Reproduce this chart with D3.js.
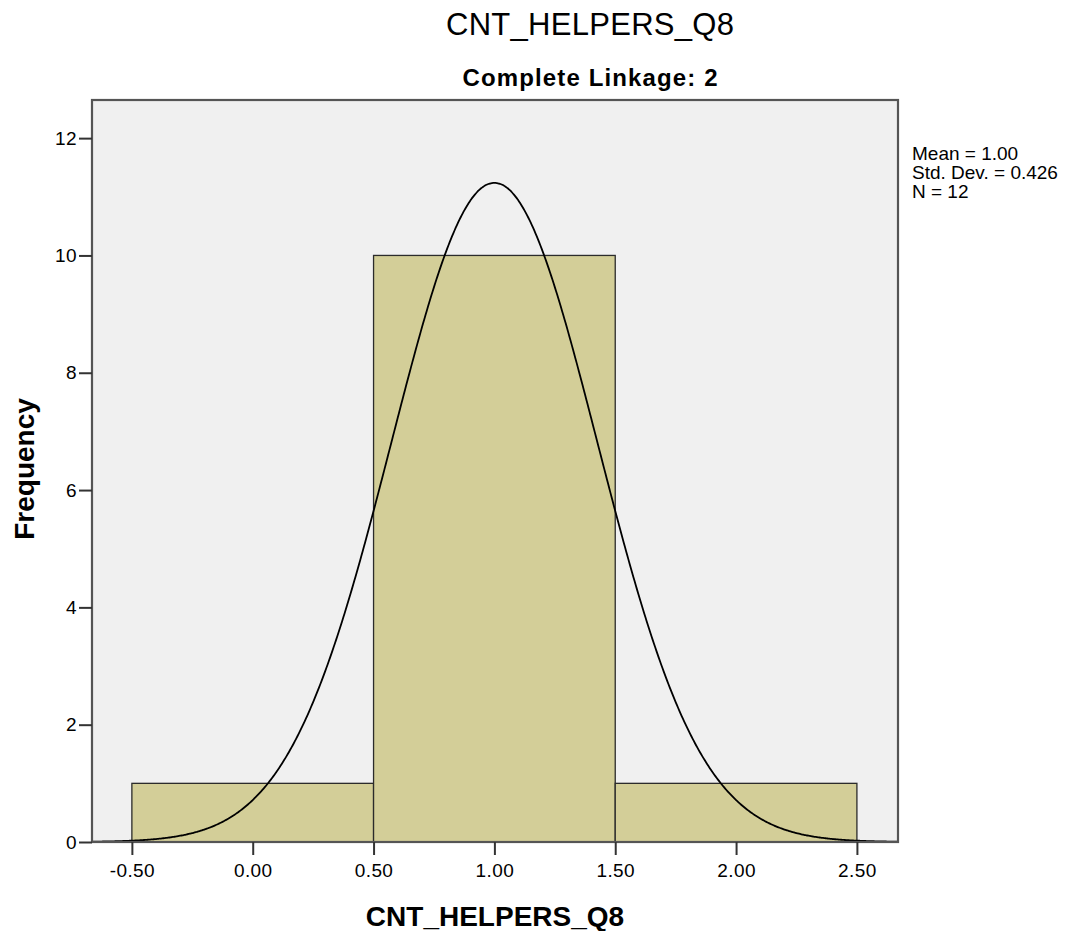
<!DOCTYPE html>
<html>
<head>
<meta charset="utf-8">
<script src="https://cdn.jsdelivr.net/npm/d3@7"></script>
<style>
  body { margin: 0; background: #fff; }
  text { font-family: "Liberation Sans", Arial, sans-serif; fill: #000; }
</style>
</head>
<body>
<svg id="chart"></svg>
<script>
// histogram bins and counts
const binStarts = [-0.5, 0.5, 1.5],
      binEnds = [0.5, 1.5, 2.5],
      counts = [1, 10, 1];
// tick labels
const xTicks = [-0.5, 0, 0.5, 1, 1.5, 2, 2.5],
      yTicks = [0, 2, 4, 6, 8, 10, 12];
// summary stats for the normal curve
const mean = 1.00, stdDev = 0.426, nCount = 12, binWidth = 1;
const statLines = ['Mean = 1.00', 'Std. Dev. = 0.426', 'N = 12'];

const svg = d3.select('#chart')
    .attr('width', 1078)
    .attr('height', 931);

// plot frame
const plotL = 92, plotR = 898, plotT = 100, plotB = 842;

const x = d3.scaleLinear().domain([-0.665, 2.67]).range([plotL, plotR]);
const y = d3.scaleLinear().domain([0, 12.65]).range([plotB, plotT]);

// background
svg.append('rect')
    .attr('x', plotL).attr('y', plotT)
    .attr('width', plotR - plotL).attr('height', plotB - plotT)
    .attr('fill', '#f0f0f0');

// bars
svg.selectAll('rect.bar')
    .data(counts)
    .join('rect')
    .attr('class', 'bar')
    .attr('x', (d, i) => x(binStarts[i]))
    .attr('width', (d, i) => x(binEnds[i]) - x(binStarts[i]))
    .attr('y', d => y(d))
    .attr('height', d => y(0) - y(d))
    .attr('fill', '#d3ce98')
    .attr('stroke', '#2b2b2b')
    .attr('stroke-width', 1.3);

// normal curve
const pdf = v => Math.exp(-0.5 * Math.pow((v - mean) / stdDev, 2)) / (stdDev * Math.sqrt(2 * Math.PI));
const curvePts = d3.range(-0.665, 2.6701, 0.005).map(v => [v, nCount * binWidth * pdf(v)]);
svg.append('path')
    .datum(curvePts)
    .attr('fill', 'none')
    .attr('stroke', '#000')
    .attr('stroke-width', 1.8)
    .attr('d', d3.line().x(d => x(d[0])).y(d => y(d[1])).curve(d3.curveBasis));

// frame border
svg.append('rect')
    .attr('x', plotL).attr('y', plotT)
    .attr('width', plotR - plotL).attr('height', plotB - plotT)
    .attr('fill', 'none')
    .attr('stroke', '#555')
    .attr('stroke-width', 2.2);

// axes
const fmt = d => d3.format('.2f')(d).replace('\u2212', '-');
const xAxis = svg.append('g')
    .attr('transform', `translate(0,${plotB})`)
    .call(d3.axisBottom(x).tickValues(xTicks).tickFormat(fmt).tickSize(13).tickPadding(9));
const yAxis = svg.append('g')
    .attr('transform', `translate(${plotL},0)`)
    .call(d3.axisLeft(y).tickValues(yTicks).tickSize(13).tickPadding(2));
[xAxis, yAxis].forEach(g => {
    g.select('.domain').remove();
    g.selectAll('.tick line').attr('stroke', '#333').attr('stroke-width', 2);
    g.selectAll('.tick text')
        .attr('font-size', 19)
        .attr('fill', '#222')
        .style('letter-spacing', '0.4px')
        .style('font-family', '"Liberation Sans", Arial, sans-serif');
});

// titles
svg.append('text')
    .attr('x', 590).attr('y', 35)
    .attr('text-anchor', 'middle')
    .attr('font-size', 31)
    .attr('textLength', 288)
    .attr('lengthAdjust', 'spacing')
    .text('CNT_HELPERS_Q8');
svg.append('text')
    .attr('x', 590).attr('y', 86)
    .attr('text-anchor', 'middle')
    .attr('font-size', 24)
    .attr('font-weight', 'bold')
    .attr('textLength', 255)
    .attr('lengthAdjust', 'spacing')
    .text('Complete Linkage: 2');
svg.append('text')
    .attr('x', 495).attr('y', 926)
    .attr('text-anchor', 'middle')
    .attr('font-size', 28)
    .attr('font-weight', 'bold')
    .text('CNT_HELPERS_Q8');
svg.append('text')
    .attr('transform', 'translate(34,469) rotate(-90)')
    .attr('text-anchor', 'middle')
    .attr('font-size', 28)
    .attr('font-weight', 'bold')
    .text('Frequency');

// stats box
svg.append('g')
    .selectAll('text')
    .data(statLines)
    .join('text')
    .attr('x', 912)
    .attr('y', (d, i) => 160 + i * 19)
    .attr('font-size', 19)
    .text(d => d);
</script>
</body>
</html>
